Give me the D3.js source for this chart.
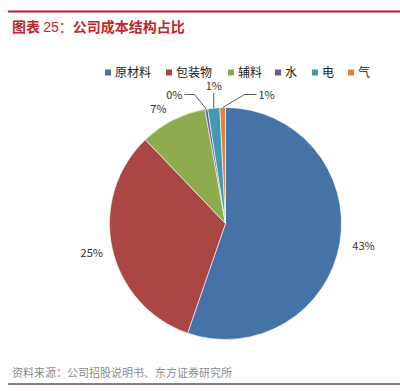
<!DOCTYPE html>
<html>
<head>
<meta charset="utf-8">
<script src="https://cdn.jsdelivr.net/npm/d3@7"></script>
<style>
    body { margin:0; background:#fff; }
    svg text { font-family: "Noto Sans CJK SC", "Liberation Sans", sans-serif; }
</style>
</head>
<body>
<svg id="chart" width="400" height="391"></svg>
<script>
// 데이터
var categories = ["原材料", "包装物", "辅料", "水", "电", "气"];
var shares = [42.8, 25.2, 7.2, 0.3, 1.3, 0.6];   // 원그림 라벨 기준 (%)
var colors = ["#4573a8", "#aa4744", "#8eac4f", "#70598f", "#4399b1", "#d9843f"];

var W = 400, H = 391;
var cx = 225.5, cy = 223.5, R = 116;

var svg = d3.select("#chart");

// 제목
svg.append("line")
    .attr("x1", 8).attr("x2", W).attr("y1", 11.5).attr("y2", 11.5)
    .style("stroke", "#a3242c").style("stroke-width", 2);

var title = svg.append("text")
    .attr("x", 12).attr("y", 32)
    .style("font-size", "14px").style("fill", "#c0272d");
title.append("tspan").style("font-weight", "bold").text("图表 ");
title.append("tspan").style("font-family", "Liberation Sans").text("25");
title.append("tspan").text("：");
title.append("tspan").style("font-weight", "bold").text("公司成本结构占比");

// 범례
var legendX = [105, 166, 228, 275, 312, 348];
var lg = svg.append("g").attr("class", "legend");
categories.forEach(function(c, i) {
    lg.append("rect")
        .attr("x", legendX[i]).attr("y", 69.5).attr("width", 6).attr("height", 6)
        .style("fill", colors[i]);
    lg.append("text")
        .attr("x", legendX[i] + 10).attr("y", 77)
        .style("font-size", "12px").style("fill", "#222")
        .text(c);
});

// 파이
var pie = d3.pie().sort(null).value(function(d) { return d; });
var arcs = pie(shares);
var arc = d3.arc().innerRadius(0).outerRadius(R);

var g = svg.append("g").attr("transform", "translate(" + cx + "," + cy + ")");
g.selectAll("path.slice")
    .data(arcs)
    .enter().append("path")
    .attr("class", "slice")
    .attr("d", arc)
    .style("fill", function(d, i) { return colors[i]; })
    .style("stroke", "#fff")
    .style("stroke-width", 0.6);

// 라벨
function edge(d, k) {
    var a = (d.startAngle + d.endAngle) / 2;
    return [Math.sin(a) * R * k, -Math.cos(a) * R * k];
}
var fmt = function(v) { return Math.round(v) + "%"; };

var lbl = g.append("g").style("font-family", "Liberation Sans").style("font-size", "11px").style("fill", "#333");

// 큰 조각: 바깥쪽에 그냥 표시
[0, 1, 2].forEach(function(i) {
    var p = edge(arcs[i], 1.18);
    if (i == 0) p = [p[0] + 3, p[1]];
    if (i == 2) p = [p[0] - 5, p[1] + 7];
    lbl.append("text")
        .attr("x", p[0]).attr("y", p[1] + 4)
        .attr("text-anchor", "middle")
        .text(fmt(shares[i]));
});

// 작은 조각: 지시선
var small = [
    { i: 3, tx: -43, ty: -129, bend: -31, anchor: "end" },
    { i: 4, tx: -10.5, ty: -133.5, bend: null, anchor: "middle" },
    { i: 5, tx: 33, ty: -129, bend: 19, anchor: "start" }
];
small.forEach(function(s) {
    var p = edge(arcs[s.i], 1.0);
    var pts;
    if (s.bend === null) {
        pts = [[p[0], p[1]], [p[0], s.ty + 3]];
    } else {
        pts = [[p[0], p[1]], [s.bend, s.ty], [s.tx + (s.anchor == "end" ? 2 : -2), s.ty]];
    }
    g.append("path")
        .attr("d", d3.line()(pts))
        .style("fill", "none").style("stroke", "#333").style("stroke-width", 0.8);
    lbl.append("text")
        .attr("x", s.bend === null ? p[0] : s.tx)
        .attr("y", s.bend === null ? s.ty : s.ty + 4)
        .attr("text-anchor", s.anchor)
        .text(fmt(shares[s.i]));
});

// 출처
svg.append("text")
    .attr("x", 12).attr("y", 377)
    .style("font-size", "11px").style("fill", "#8a8a8a")
    .text("资料来源：公司招股说明书、东方证券研究所");

svg.append("line")
    .attr("x1", 8).attr("x2", W).attr("y1", 384).attr("y2", 384)
    .style("stroke", "#6b5252").style("stroke-width", 1.5);
</script>
</body>
</html>
